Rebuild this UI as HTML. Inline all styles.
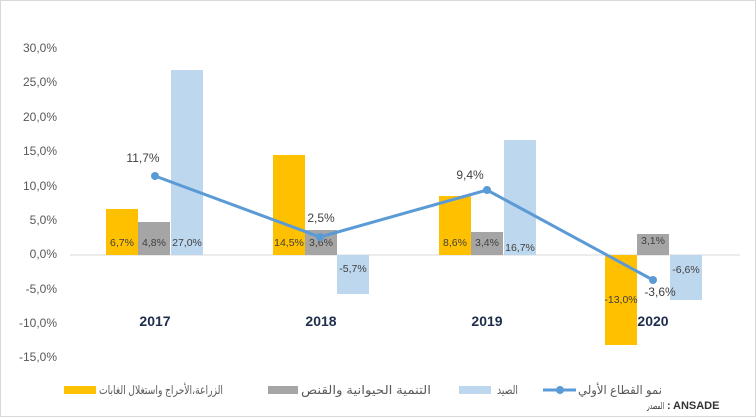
<!DOCTYPE html>
<html><head><meta charset="utf-8"><style>
body{margin:0;background:#fff}
svg{display:block;font-family:"Liberation Sans","DejaVu Sans",sans-serif}
</style></head><body>
<svg width="756" height="419" viewBox="0 0 756 419">
<rect x="0.5" y="0.5" width="755" height="416" fill="#fff" stroke="#d9d9d9"/>
<g font-size="12" fill="#595959" text-anchor="end">
<text x="57" y="52">30,0%</text><text x="57" y="86">25,0%</text><text x="57" y="121">20,0%</text>
<text x="57" y="155">15,0%</text><text x="57" y="190">10,0%</text><text x="57" y="224">5,0%</text>
<text x="57" y="258">0,0%</text><text x="57" y="293">-5,0%</text><text x="57" y="327">-10,0%</text>
<text x="57" y="361">-15,0%</text>
</g>
<line x1="70" y1="255" x2="740" y2="255" stroke="#d9d9d9"/>
<g>
<rect x="106" y="209" width="32" height="46" fill="#ffc000"/>
<rect x="138" y="222" width="32" height="33" fill="#a5a5a5"/>
<rect x="171" y="70" width="32" height="185" fill="#bdd7ee"/>
<rect x="273" y="155" width="32" height="100" fill="#ffc000"/>
<rect x="305" y="230" width="32" height="25" fill="#a5a5a5"/>
<rect x="337" y="255" width="32" height="39" fill="#bdd7ee"/>
<rect x="439" y="196" width="32" height="59" fill="#ffc000"/>
<rect x="471" y="232" width="32" height="23" fill="#a5a5a5"/>
<rect x="504" y="140" width="32" height="115" fill="#bdd7ee"/>
<rect x="605" y="255" width="32" height="90" fill="#ffc000"/>
<rect x="637" y="234" width="32" height="21" fill="#a5a5a5"/>
<rect x="670" y="255" width="32" height="45" fill="#bdd7ee"/>
</g>
<g font-size="10.5" fill="#404040" text-anchor="middle">
<text x="122" y="246">6,7%</text><text x="154" y="246">4,8%</text><text x="187" y="246">27,0%</text>
<text x="289" y="246">14,5%</text><text x="321" y="246">3,6%</text><text x="353" y="272">-5,7%</text>
<text x="455" y="246">8,6%</text><text x="487" y="246">3,4%</text><text x="520" y="251">16,7%</text>
<text x="621" y="303">-13,0%</text><text x="653" y="244">3,1%</text><text x="686" y="273">-6,6%</text>
</g>
<polyline points="155,176 320,237 487,190 653,280" fill="none" stroke="#5b9bd5" stroke-width="3"/>
<g fill="#5b9bd5"><circle cx="155" cy="176" r="4"/><circle cx="320" cy="237" r="4"/><circle cx="487" cy="190" r="4"/><circle cx="653" cy="280" r="4"/></g>
<g font-size="12" fill="#404040" text-anchor="middle">
<text x="143" y="162">11,7%</text><text x="321" y="222">2,5%</text><text x="470" y="179">9,4%</text><text x="660" y="296">-3,6%</text>
</g>
<g font-size="14" font-weight="bold" fill="#1f2d4d" text-anchor="middle">
<text x="155" y="326">2017</text><text x="321" y="326">2018</text><text x="487" y="326">2019</text><text x="653" y="326">2020</text>
</g>
<g font-size="12" fill="#595959">
<rect x="64" y="386" width="32" height="8" fill="#ffc000"/>
<text x="99" y="394" textLength="124" lengthAdjust="spacingAndGlyphs">الزراعة،الأحراج واستغلال الغابات</text>
<rect x="268" y="386" width="30" height="8" fill="#a5a5a5"/>
<text x="301" y="394" textLength="130" lengthAdjust="spacingAndGlyphs">التنمية الحيوانية والقنص</text>
<rect x="459" y="386" width="32" height="8" fill="#bdd7ee"/>
<text x="497" y="394" textLength="21" lengthAdjust="spacingAndGlyphs">الصيد</text>
<line x1="543" y1="390" x2="576" y2="390" stroke="#5b9bd5" stroke-width="3"/>
<circle cx="560" cy="390" r="4" fill="#5b9bd5"/>
<text x="578" y="394" textLength="84" lengthAdjust="spacingAndGlyphs">نمو القطاع الأولي</text>
<text x="647" y="409" font-size="9" fill="#333" textLength="17" lengthAdjust="spacingAndGlyphs">المصدر</text>
<text x="667" y="409" font-size="11" font-weight="bold" fill="#333">:</text>
<text x="673" y="409" font-size="11" font-weight="bold" fill="#333">ANSADE</text>
</g>
</svg>
</body></html>
